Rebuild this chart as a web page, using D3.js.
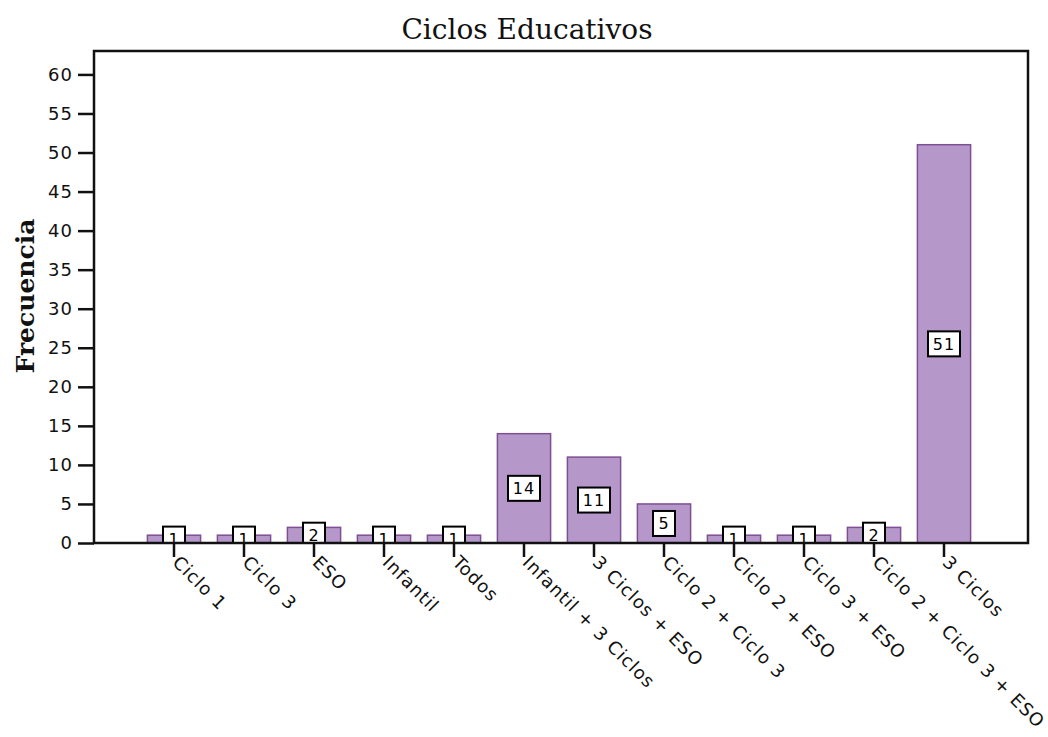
<!DOCTYPE html>
<html>
<head>
<meta charset="utf-8">
<script src="https://cdn.jsdelivr.net/npm/d3@7"></script>
<style>
  body { margin: 0; background: #fff; }
</style>
</head>
<body>
<div id="chart"></div>
<script>
var categories = ["Ciclo 1", "Ciclo 3", "ESO", "Infantil", "Todos", "Infantil + 3 Ciclos",
                  "3 Ciclos + ESO", "Ciclo 2 + Ciclo 3", "Ciclo 2 + ESO", "Ciclo 3 + ESO",
                  "Ciclo 2 + Ciclo 3 + ESO", "3 Ciclos"];
var frecuencias = [1, 1, 2, 1, 1, 14, 11, 5, 1, 1, 2, 51];
var yTicks = [0, 5, 10, 15, 20, 25, 30, 35, 40, 45, 50, 55, 60];

var svgwidth = 1048;
var svgheight = 737;

var plotLeft = 94, plotRight = 1028, plotTop = 51, plotBottom = 543;

var svg = d3.select("#chart")
            .append("svg")
            .attr("width", svgwidth)
            .attr("height", svgheight);

var data = categories.map(function(c, i) { return {cat: c, val: frecuencias[i]}; });

var xscale = d3.scaleBand()
                .domain(categories)
                .range([139, 979])
                .paddingInner(0.24)
                .paddingOuter(0.12);

var yscale = d3.scaleLinear()
                .domain([0, 63])
                .range([plotBottom, plotTop]);

// clip for bars and label boxes
svg.append("clipPath")
    .attr("id", "plotclip")
    .append("rect")
    .attr("x", plotLeft)
    .attr("y", plotTop)
    .attr("width", plotRight - plotLeft)
    .attr("height", plotBottom - plotTop);

// Title
svg.append("text")
    .attr("x", 527)
    .attr("y", 39)
    .style("text-anchor", "middle")
    .style("font-family", "DejaVu Serif")
    .style("font-size", "28px")
    .style("fill", "#111")
    .text("Ciclos Educativos");

// Y axis title
svg.append("text")
    .attr("transform", "rotate(-90)")
    .attr("x", -296)
    .attr("y", 34)
    .style("text-anchor", "middle")
    .style("font-family", "DejaVu Serif")
    .style("font-weight", "bold")
    .style("font-size", "25px")
    .style("fill", "#111")
    .text("Frecuencia");

var plot = svg.append("g").attr("clip-path", "url(#plotclip)");

// bars
plot.selectAll("rect.bar")
    .data(data)
    .join("rect")
    .attr("class", "bar")
    .attr("x", d => xscale(d.cat))
    .attr("y", d => yscale(d.val))
    .attr("width", xscale.bandwidth())
    .attr("height", d => yscale(0) - yscale(d.val))
    .style("fill", "#b597ca")
    .style("stroke", "#7e4f93")
    .style("stroke-width", 1.5);

// value label boxes
var labels = plot.selectAll("g.lbl")
    .data(data)
    .join("g")
    .attr("class", "lbl")
    .attr("transform", d => "translate(" + (xscale(d.cat) + xscale.bandwidth() / 2) + "," + yscale(d.val / 2) + ")");

labels.append("rect")
    .attr("x", d => d.val >= 10 ? -16 : -11)
    .attr("y", -12.5)
    .attr("width", d => d.val >= 10 ? 32 : 22)
    .attr("height", 25)
    .style("fill", "#fff")
    .style("stroke", "#000")
    .style("stroke-width", 2);

labels.append("text")
    .attr("y", 6)
    .style("text-anchor", "middle")
    .style("font-family", "DejaVu Sans")
    .style("font-size", "16px")
    .style("letter-spacing", "1px")
    .text(d => d.val);

// frame
svg.append("rect")
    .attr("x", plotLeft)
    .attr("y", plotTop)
    .attr("width", plotRight - plotLeft)
    .attr("height", plotBottom - plotTop)
    .style("fill", "none")
    .style("stroke", "#111")
    .style("stroke-width", 2.5);

// y axis
var yaxis = d3.axisLeft()
                .scale(yscale)
                .tickValues(yTicks)
                .tickSize(16)
                .tickPadding(5);

var yg = svg.append("g")
    .attr("transform", "translate(" + plotLeft + ",0)")
    .call(yaxis);
yg.select(".domain").remove();
yg.selectAll(".tick line").style("stroke", "#111").style("stroke-width", 2.5);
yg.selectAll(".tick text")
    .style("font-family", "DejaVu Sans")
    .style("font-size", "18px")
    .style("letter-spacing", "1px")
    .style("fill", "#111");

// x axis
var xaxis = d3.axisBottom()
                .scale(xscale)
                .tickSize(14)
                .tickPadding(4);

var xg = svg.append("g")
    .attr("transform", "translate(0," + plotBottom + ")")
    .call(xaxis);
xg.select(".domain").remove();
xg.selectAll(".tick line").style("stroke", "#111").style("stroke-width", 2.5);
xg.selectAll(".tick text")
    .attr("transform", "translate(2,16) rotate(45)")
    .attr("dy", "0.35em")
    .attr("y", 0)
    .attr("x", 0)
    .style("text-anchor", "start")
    .style("font-family", "DejaVu Sans")
    .style("font-size", "18px")
    .style("letter-spacing", "1px")
    .style("fill", "#111");
</script>
</body>
</html>
